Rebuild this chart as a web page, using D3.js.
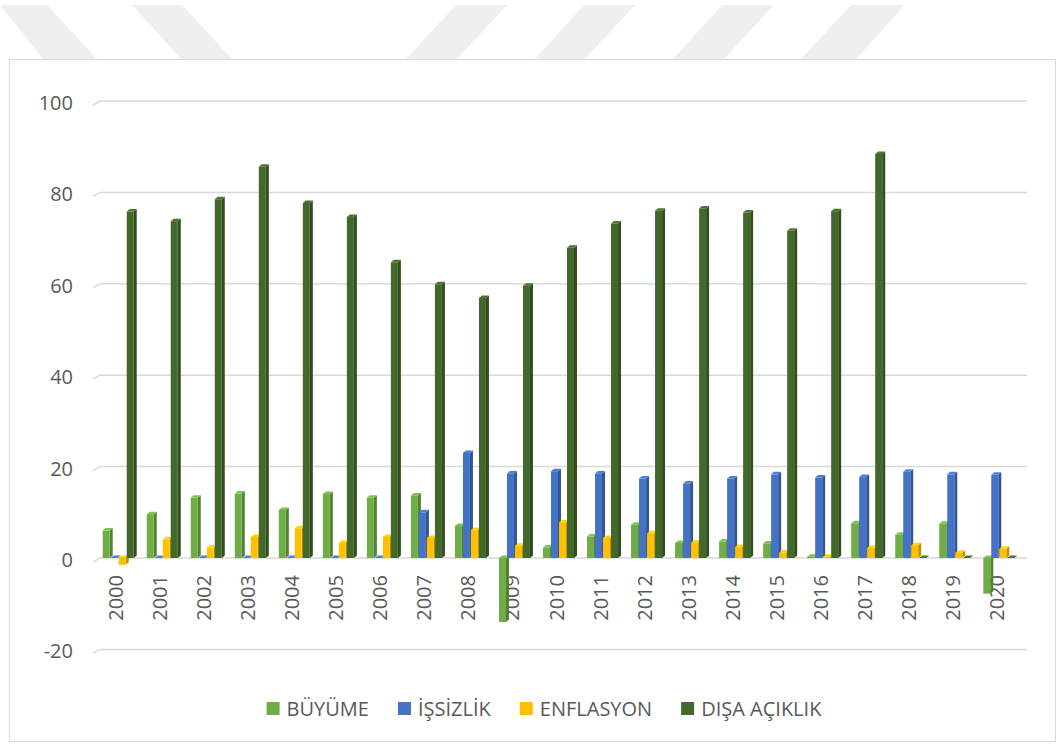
<!DOCTYPE html>
<html>
<head>
<meta charset="utf-8">
<script src="https://cdn.jsdelivr.net/npm/d3@7"></script>
<style>
  body { margin: 0; background: #fff; }
  svg { display: block; }
</style>
</head>
<body>
<div id="chart"></div>
<script>
// data
const years = ['2000','2001','2002','2003','2004','2005','2006','2007','2008','2009','2010',
  '2011','2012','2013','2014','2015','2016','2017','2018','2019','2020'];
const seriesNames = ['BÜYÜME', 'İŞSİZLİK', 'ENFLASYON', 'DIŞA AÇIKLIK'];
const buyume   = [6.0, 9.6, 13.2, 14.1, 10.5, 14.0, 13.2, 13.7, 7.0, -14.0, 2.3, 4.7, 7.3, 3.3, 3.6, 3.2, 0.3, 7.6, 5.1, 7.5, -7.8];
const issizlik = [0, 0, 0, 0, 0, 0, 0, 10.0, 23.0, 18.5, 19.0, 18.5, 17.4, 16.3, 17.4, 18.3, 17.6, 17.7, 18.9, 18.3, 18.2];
const enflasyon = [-1.5, 4.1, 2.3, 4.6, 6.5, 3.3, 4.6, 4.4, 6.1, 2.7, 7.8, 4.4, 5.4, 3.4, 2.4, 1.2, 0.3, 2.2, 2.8, 1.1, 2.0];
const disaAciklik = [75.8, 73.7, 78.5, 85.6, 77.7, 74.6, 64.7, 59.9, 56.9, 59.6, 67.9, 73.2, 76.0, 76.5, 75.6, 71.6, 75.9, 88.4, 0, 0, 0];
const yTicks = [-20, 0, 20, 40, 60, 80, 100];

const seriesValues = [buyume, issizlik, enflasyon, disaAciklik];
const colors = ['#70AD47', '#4472C4', '#FFC000', '#43682B'];

const width = 1062, height = 747;
const font = '"Open Sans", "Liberation Sans", sans-serif';
const textColor = '#595959';

const svg = d3.select('#chart').append('svg')
  .attr('width', width)
  .attr('height', height)
  .attr('font-family', font);

// faint watermark stripes above the chart frame
const stripes = [
  [[0, 5], [47, 5], [98, 60], [44, 60]],
  [[132, 5], [182, 5], [233, 60], [182, 60]],
  [[456, 5], [507, 5], [456, 60], [405, 60]],
  [[584, 5], [635, 5], [584, 60], [534, 60]],
  [[722, 5], [774, 5], [723, 60], [672, 60]],
  [[851, 5], [905, 5], [855, 60], [800, 60]]
];
svg.append('g')
  .selectAll('polygon')
  .data(stripes)
  .join('polygon')
    .attr('points', d => d.map(p => p.join(',')).join(' '))
    .attr('fill', '#efefef');

// chart frame
svg.append('rect')
  .attr('x', 9.5).attr('y', 59.5)
  .attr('width', 1046).attr('height', 682)
  .attr('fill', '#fff')
  .attr('stroke', '#d9d9d9');

// scales
const y = d3.scaleLinear().domain([-20, 100]).range([649.4, 101]);
const x0 = d3.scaleBand().domain(years)
  .range([80.7, 1037.3])
  .paddingInner(0.273)
  .paddingOuter(0.5);
const x1 = d3.scaleBand().domain(seriesNames).range([0, x0.bandwidth()]);

// gridlines with the little 3d floor bend on the left
svg.append('g')
  .selectAll('path')
  .data(yTicks)
  .join('path')
    .attr('d', d => `M93,${y(d) + 4}L100,${y(d)}H1027`)
    .attr('fill', 'none')
    .attr('stroke', '#d9d9d9')
    .attr('stroke-width', 1.5);

// y axis labels (plain hyphen for negatives, like the original)
const yAxis = svg.append('g')
  .attr('transform', 'translate(80,2)')
  .call(d3.axisLeft(y).tickValues(yTicks).tickFormat(d => String(d)).tickSize(0).tickPadding(7));
yAxis.select('.domain').remove();
yAxis.selectAll('text')
  .attr('font-family', font)
  .attr('font-size', 20)
  .attr('fill', textColor);

// x axis labels, rotated
const xAxis = svg.append('g')
  .attr('transform', 'translate(-2.5,575)')
  .call(d3.axisBottom(x0).tickSize(0));
xAxis.select('.domain').remove();
xAxis.selectAll('text')
  .attr('transform', 'rotate(-90)')
  .attr('x', 0)
  .attr('y', 0)
  .attr('dy', '0.35em')
  .attr('text-anchor', 'end')
  .attr('font-family', font)
  .attr('font-size', 20)
  .attr('fill', textColor);

// 3d-ish columns
const dx = 3, dy = 2.5;
const barW = x1.bandwidth() - 1;

const groups = svg.append('g')
  .selectAll('g')
  .data(years)
  .join('g')
    .attr('transform', d => `translate(${x0(d)},0)`);

groups.each(function(year, i) {
  const g = d3.select(this);
  seriesNames.forEach((name, s) => {
    const v = seriesValues[s][i];
    const top = Math.min(y(v), y(0));
    const bottom = Math.max(y(v), y(0));
    const xs = x1(name);
    const base = d3.color(colors[s]);
    // right side
    g.append('polygon')
      .attr('points', [[xs + barW, top], [xs + barW + dx, top - dy], [xs + barW + dx, bottom - dy], [xs + barW, bottom]].map(p => p.join(',')).join(' '))
      .attr('fill', base.darker(0.8));
    // front
    g.append('rect')
      .attr('x', xs)
      .attr('y', top)
      .attr('width', barW)
      .attr('height', bottom - top)
      .attr('fill', colors[s]);
    // top cap
    g.append('polygon')
      .attr('points', [[xs, top], [xs + dx, top - dy], [xs + barW + dx, top - dy], [xs + barW, top]].map(p => p.join(',')).join(' '))
      .attr('fill', base.brighter(0.3));
  });
});

// legend
const legend = svg.append('g').attr('transform', 'translate(0,708.5)');
const items = legend.selectAll('g')
  .data(seriesNames)
  .join('g');
items.append('rect')
  .attr('y', -6.5)
  .attr('width', 13)
  .attr('height', 13)
  .attr('fill', (d, i) => colors[i]);
items.append('text')
  .attr('x', 20)
  .attr('dy', '0.35em')
  .attr('font-size', 20)
  .attr('fill', textColor)
  .text(d => d);

let offset = 0;
const positions = [];
items.each(function() {
  positions.push(offset);
  offset += 20 + d3.select(this).select('text').node().getComputedTextLength() + 29;
});
const legendWidth = offset - 29;
const legendStart = 544 - legendWidth / 2;
items.attr('transform', (d, i) => `translate(${legendStart + positions[i]},0)`);
</script>
</body>
</html>
